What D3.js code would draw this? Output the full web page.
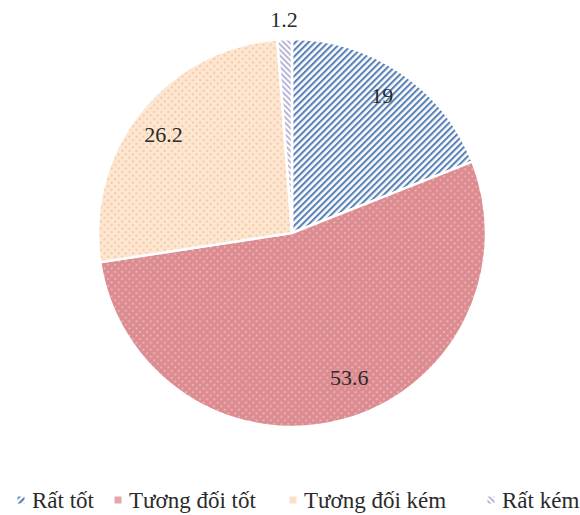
<!DOCTYPE html>
<html><head><meta charset="utf-8">
<script src="https://cdn.jsdelivr.net/npm/d3@7/dist/d3.min.js"></script>
<style>body{margin:0;background:#fff}svg{display:block}</style>
</head><body>
<svg id="c" width="580" height="515"></svg>
<script>
const categories = ["Rất tốt", "Tương đối tốt", "Tương đối kém", "Rất kém"];
const values = [19, 53.6, 26.2, 1.2];
const labels = ["19", "53.6", "26.2", "1.2"];

const FONT = '"Liberation Serif"';
const svg = d3.select("#c").style("font-family", FONT);
const defs = svg.append("defs");

const pBlue = defs.append("pattern").attr("id","pBlue").attr("patternUnits","userSpaceOnUse")
  .attr("width",4.6).attr("height",4.6).attr("patternTransform","rotate(45)");
pBlue.append("rect").attr("width",4.6).attr("height",4.6).attr("fill","#ffffff");
pBlue.append("rect").attr("width",2.1).attr("height",4.6).attr("fill","#5a82b6");

const pPink = defs.append("pattern").attr("id","pPink").attr("patternUnits","userSpaceOnUse")
  .attr("width",5).attr("height",5).attr("patternTransform","rotate(45)");
pPink.append("rect").attr("width",5).attr("height",5).attr("fill","#dc8c91");
pPink.append("circle").attr("cx",2.5).attr("cy",2.5).attr("r",0.9).attr("fill","#f2c2c3");

const pPeach = defs.append("pattern").attr("id","pPeach").attr("patternUnits","userSpaceOnUse")
  .attr("width",5).attr("height",5).attr("patternTransform","rotate(45)");
pPeach.append("rect").attr("width",5).attr("height",5).attr("fill","#fde7d3");
pPeach.append("rect").attr("x",0.8).attr("y",0.8).attr("width",2.2).attr("height",2.2).attr("fill","#f8cba6");

const pLav = defs.append("pattern").attr("id","pLav").attr("patternUnits","userSpaceOnUse")
  .attr("width",4).attr("height",4).attr("patternTransform","rotate(-45)");
pLav.append("rect").attr("width",4).attr("height",4).attr("fill","#ffffff");
pLav.append("rect").attr("width",1.8).attr("height",4).attr("fill","#b3aed6");

const fills = ["url(#pBlue)","url(#pPink)","url(#pPeach)","url(#pLav)"];
const legendColors = ["#5a82b6","#e6a5a9","#fbe0c8","#b3aed6"];

const cx = 292, cy = 233, r = 194;
const data = categories.map((c,i)=>({c, v: values[i], l: labels[i], i}));
const pie = d3.pie().value(d=>d.v).sort(null);
const arcs = pie(data);
const arc = d3.arc().innerRadius(0).outerRadius(r);

const g = svg.append("g").attr("transform",`translate(${cx},${cy})`);
g.selectAll("path").data(arcs).join("path")
  .attr("d",arc).attr("fill",d=>fills[d.data.i])
  .attr("stroke","#fff").attr("stroke-width",2.5);

const labelR = [0.85, 0.80, 0.835, 1.10];
const labelDA = [-1, -6.5, -1, 0];
g.selectAll("text.lab").data(arcs).join("text")
  .attr("class","lab")
  .attr("transform",d=>{
    const a = (d.startAngle+d.endAngle)/2 + labelDA[d.data.i]*Math.PI/180;
    const rr = r*labelR[d.data.i];
    return `translate(${Math.sin(a)*rr},${-Math.cos(a)*rr})`;
  })
  .attr("text-anchor","middle").attr("dy","0.35em")
  .style("font-family",FONT).style("font-size","22px").attr("fill","#2a2a2a")
  .text(d=>d.data.l);

const legMarkX = [21, 118, 293, 491];
const lg = svg.append("g");
const items = lg.selectAll("g").data(data).join("g")
  .attr("transform",(d,i)=>`translate(${legMarkX[i]},500)`);
items.append("rect").attr("x",-3.5).attr("y",-3.5).attr("width",7).attr("height",7)
  .attr("fill",d=>d.i===0?"url(#pBlue)":d.i===3?"url(#pLav)":legendColors[d.i]);
items.append("text").attr("x",11).attr("y",7.5)
  .style("font-family",FONT).style("font-size","23px").attr("fill","#2a2a2a")
  .text(d=>d.c);
</script>
</body></html>
